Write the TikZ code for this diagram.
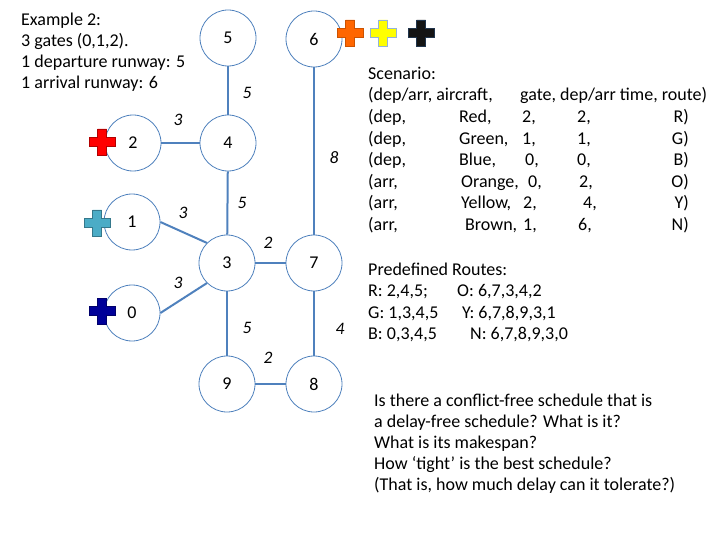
\documentclass[tikz,border=0pt]{standalone}
\usepackage{fontspec}
\setmainfont{Carlito}
\usepackage{xcolor}
\definecolor{EdgeBlue}{HTML}{4F81BD}
\definecolor{PlusRed}{HTML}{FF0000}
\definecolor{PlusTeal}{HTML}{4BACC6}
\definecolor{PlusNavy}{HTML}{000099}
\definecolor{PlusOrange}{HTML}{FF6600}
\definecolor{PlusYellow}{HTML}{FFFF00}
\definecolor{PlusBlack}{HTML}{141414}

\begin{document}
\begin{tikzpicture}[x=1pt,y=-1pt,font=\fontsize{18}{21}\selectfont,
  spot/.style={circle,draw=EdgeBlue,line width=0.8pt,fill=white,minimum size=56pt,inner sep=0pt},
  link/.style={draw=EdgeBlue,line width=2pt},
  weight/.style={font=\fontsize{17.5}{21}\selectfont\itshape},
  txt/.style={anchor=base west,inner sep=0pt},
  txtr/.style={anchor=base east,inner sep=0pt},
  plussign/.pic={
    \path[pic actions,line width=0.8pt] (-4.5,-13) -- (4.5,-13) -- (4.5,-4.5) -- (13,-4.5)
      -- (13,4.5) -- (4.5,4.5) -- (4.5,13) -- (-4.5,13) -- (-4.5,4.5) -- (-13,4.5)
      -- (-13,-4.5) -- (-4.5,-4.5) -- cycle;
  }]
  \useasboundingbox (0,0) rectangle (720,540);

  % intro text (top left)
  \node[txt] (intro1) at (21,26) {Example 2:};
  \node[txt] (intro2) at (21,46.5) {3 gates (0,1,2).};
  \node[txt] (intro3) at (21,67.5) {1 departure runway: 5};
  \node[txt] (intro4) at (21,88.5) {1 arrival runway: 6};

  % airport nodes
  \node[spot] (n5) at (228,38) {5};
  \node[spot] (n6) at (314,39) {6};
  \node[spot] (n2) at (133,143) {2};
  \node[spot] (n4) at (228,143) {4};
  \node[spot] (n1) at (132,222) {1};
  \node[spot] (n3) at (227,263) {3};
  \node[spot] (n7) at (314,263) {7};
  \node[spot] (n0) at (132,313) {0};
  \node[spot] (n9) at (227,384) {9};
  \node[spot] (n8) at (314,384) {8};

  % links
  \draw[link] (n5) -- (n4);
  \draw[link] (n2) -- (n4);
  \draw[link] (n4) -- (n3);
  \draw[link] (n1.east) -- (n3.north west);
  \draw[link] (n0.east) -- (n3.south west);
  \draw[link] (n3) -- (n7);
  \draw[link] (n3) -- (n9);
  \draw[link] (n9) -- (n8);
  \draw[link] (n8) -- (n7);
  \draw[link] (n7) -- (n6);

  % weights
  \node[weight] (w54) at (247,93) {5};
  \node[weight] (w24) at (178,120) {3};
  \node[weight] (w43) at (242,203) {5};
  \node[weight] (w76) at (334,158) {8};
  \node[weight] (w13) at (183,213) {3};
  \node[weight] (w37) at (268,243) {2};
  \node[weight] (w03) at (178,283) {3};
  \node[weight] (w39) at (247,328) {5};
  \node[weight] (w87) at (340,329) {4};
  \node[weight] (w98) at (268,358) {2};

  % aircraft
  \pic[fill=PlusRed,draw=PlusRed!70!black] at (102,142) {plussign};
  \pic[fill=PlusTeal,draw=PlusTeal!70!black] at (97,223) {plussign};
  \pic[fill=PlusNavy,draw=PlusNavy!70!black] at (102,311) {plussign};
  \pic[fill=PlusOrange,draw=PlusOrange!80!black] at (350,33) {plussign};
  \pic[fill=PlusYellow,draw=EdgeBlue!60] at (383,33) {plussign};
  \pic[fill=PlusBlack,draw=EdgeBlue!40!black] at (421,33) {plussign};

  % scenario table
  \node[txt] (scen) at (368,79.5) {Scenario:};
  \node[txt] (headA) at (368,100.5) {(dep/arr, aircraft,};
  \node[txt] (headB) at (520,100.5) {gate, dep/arr time, route)};
  \foreach \yy/\kind/\plane/\px/\gate/\gx/\tm/\tx/\route in {
      123/dep/Red/459/2/522/2/577/R,
      144.5/dep/Green/459/1/522/1/577/G,
      166/dep/Blue/459/0/525/0/577/B,
      187.5/arr/Orange/461/0/528/2/579/O,
      209/arr/Yellow/461/2/523/4/583/Y,
      230.5/arr/Brown/465/1/523/6/578/N}{
    \node[txt] (kind\route) at (368,\yy) {(\kind,};
    \node[txt] (plane\route) at (\px,\yy) {\plane,};
    \node[txt] (gate\route) at (\gx,\yy) {\gate,};
    \node[txt] (time\route) at (\tx,\yy) {\tm,};
    \node[txtr] (route\route) at (689,\yy) {\route)};
  }

  % routes
  \node[txt] (routes) at (368,275) {Predefined Routes:};
  \node[txt] (rR) at (368,296.5) {R: 2,4,5;};
  \node[txt] (rG) at (368,318) {G: 1,3,4,5};
  \node[txt] (rB) at (368,339.5) {B: 0,3,4,5};
  \node[txt] (rO) at (457,296.5) {O: 6,7,3,4,2};
  \node[txt] (rY) at (462,318) {Y: 6,7,8,9,3,1};
  \node[txt] (rN) at (470,339.5) {N: 6,7,8,9,3,0};

  % questions
  \node[txt] (q1) at (374,406) {Is there a conflict-free schedule that is};
  \node[txt] (q2) at (374,427) {a delay-free schedule? What is it?};
  \node[txt] (q3) at (374,448) {What is its makespan?};
  \node[txt] (q4) at (374,469) {How ‘tight’ is the best schedule?};
  \node[txt] (q5) at (374,490.5) {(That is, how much delay can it tolerate?)};
\end{tikzpicture}
\end{document}
